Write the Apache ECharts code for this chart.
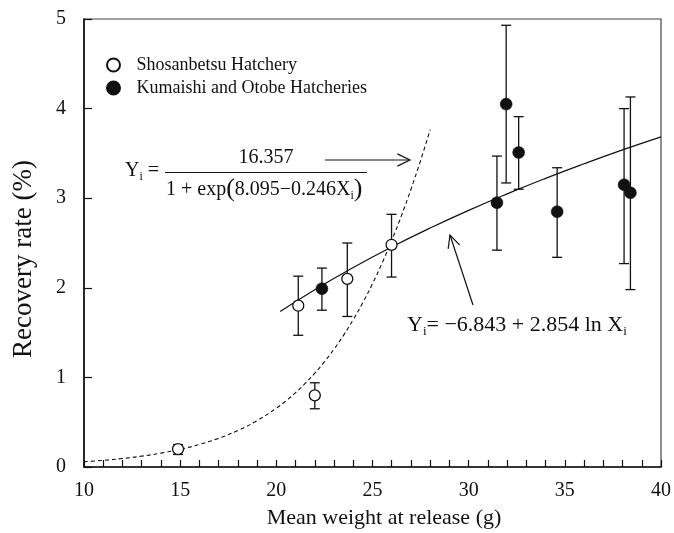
<!DOCTYPE html>
<html><head><meta charset="utf-8">
<script src="https://cdn.jsdelivr.net/npm/echarts@6.0.0/dist/echarts.min.js"></script>
<style>html,body{margin:0;padding:0;background:#fff}#c{width:674px;height:533px}</style>
</head><body><div id="c"></div>
<script>
// Shosanbetsu Hatchery (open circles)
const openX  = [14.89, 21.14, 22.0, 23.69, 25.99];
const openY  = [0.20, 1.80, 0.80, 2.10, 2.48];
const openLo = [0.14, 1.47, 0.65, 1.68, 2.12];
const openHi = [0.25, 2.13, 0.94, 2.50, 2.82];
// Kumaishi and Otobe Hatcheries (filled circles)
const fillX  = [22.37, 31.47, 31.95, 32.6, 34.6, 38.08, 38.41];
const fillY  = [1.99, 2.95, 4.05, 3.51, 2.85, 3.15, 3.06];
const fillLo = [1.75, 2.42, 3.17, 3.10, 2.34, 2.27, 1.98];
const fillHi = [2.22, 3.47, 4.93, 3.91, 3.34, 4.00, 4.13];
// solid fitted curve
const logCurveX = [20.2, 22, 24, 26, 28, 30, 32, 34, 36, 38, 40];
const logCurveY = [1.735, 1.979, 2.227, 2.456, 2.667, 2.864, 3.048, 3.221, 3.384, 3.539, 3.685];
// dashed fitted curve
const dashX = [10, 11, 12, 13, 14, 15, 16, 17, 18, 19, 20, 20.5, 21, 21.5, 22, 22.5, 23, 23.5, 24, 24.5, 25, 25.5, 26, 26.5, 27, 27.5, 28];
const dashY = [0.058, 0.074, 0.095, 0.121, 0.155, 0.197, 0.252, 0.320, 0.408, 0.518, 0.656, 0.738, 0.830, 0.933, 1.047, 1.174, 1.315, 1.472, 1.645, 1.836, 2.046, 2.277, 2.529, 2.803, 3.100, 3.421, 3.766];
const seriesNames = ['Shosanbetsu Hatchery', 'Kumaishi and Otobe Hatcheries'];
const xTitle = 'Mean weight at release (g)';
const yTitle = 'Recovery rate (%)';

const FONT = '"Liberation Serif", "Times New Roman", serif';
const zip = (a, b) => a.map((v, i) => [v, b[i]]);
const zip3 = (a, b, c) => a.map((v, i) => [v, b[i], c[i]]);

const mctx = document.createElement('canvas').getContext('2d');
function tw(t, size) { mctx.font = size + 'px ' + FONT; return mctx.measureText(t).width; }
function eq(parts, x, y) {
  const out = []; let cx = x;
  parts.forEach(([t, size, dy]) => {
    out.push({type: 'text', x: cx, y: y + dy, silent: true,
      style: {text: t, font: size + 'px ' + FONT, fill: '#111', textAlign: 'left', textVerticalAlign: 'middle'}});
    cx += tw(t, size);
  });
  return out;
}
function arrow(x1, y1, x2, y2) {
  const dx = x1 - x2, dy = y1 - y2, L = Math.hypot(dx, dy);
  const ux = dx / L, uy = dy / L, len = 14, a = 0.45;
  const c = Math.cos(a), s = Math.sin(a);
  const p1 = [x2 + len * (ux * c - uy * s), y2 + len * (ux * s + uy * c)];
  const p2 = [x2 + len * (ux * c + uy * s), y2 + len * (-ux * s + uy * c)];
  const st = {stroke: '#111', lineWidth: 1.2, fill: null};
  return [
    {type: 'line', silent: true, shape: {x1, y1, x2, y2}, style: st},
    {type: 'polyline', silent: true, shape: {points: [p1, [x2, y2], p2]}, style: st}
  ];
}

function errRender(params, api) {
  const x = api.value(0), lo = api.value(1), hi = api.value(2);
  const a = api.coord([x, hi]), b = api.coord([x, lo]);
  const w = 5, st = {stroke: '#111', lineWidth: 1.3};
  return {type: 'group', children: [
    {type: 'line', shape: {x1: a[0], y1: a[1], x2: b[0], y2: b[1]}, style: st},
    {type: 'line', shape: {x1: a[0] - w, y1: a[1], x2: a[0] + w, y2: a[1]}, style: st},
    {type: 'line', shape: {x1: b[0] - w, y1: b[1], x2: b[0] + w, y2: b[1]}, style: st}
  ]};
}

const graphics = [].concat(
  eq([['Y', 20, 0], ['i', 12, 6], [' =', 20, 0]], 125, 171),
  [{type: 'text', x: 266, y: 158, silent: true, style: {text: '16.357', font: '20px ' + FONT, fill: '#111', textAlign: 'center', textVerticalAlign: 'middle'}},
   {type: 'line', silent: true, shape: {x1: 165, y1: 172.5, x2: 367, y2: 172.5}, style: {stroke: '#111', lineWidth: 1.1}}],
  eq([['1 + exp', 20, 0], ['(', 26, -1], ['8.095\u22120.246', 20, 0], ['X', 20, 0], ['i', 12, 6], [')', 26, -1]], 166, 190),
  arrow(325, 160, 410, 160),
  eq([['Y', 22, 0], ['i', 13, 7], ['= \u22126.843 + 2.854 ln X', 22, 0], ['i', 13, 7]], 407, 325),
  arrow(473, 305, 450, 235),
  [{type: 'text', x: 384, y: 518, silent: true, style: {text: xTitle, font: '22px ' + FONT, fill: '#111', textAlign: 'center', textVerticalAlign: 'middle'}},
   {type: 'text', x: 24, y: 259, rotation: Math.PI / 2, silent: true, style: {text: yTitle, font: '27px ' + FONT, fill: '#111', textAlign: 'center', textVerticalAlign: 'middle'}}]
);

const chart = echarts.init(document.getElementById('c'), null, {renderer: 'canvas'});
chart.setOption({
  animation: false,
  backgroundColor: '#fff',
  grid: {left: 84, right: 11, top: 19, bottom: 66, show: true, borderColor: '#444', borderWidth: 1.2, backgroundColor: 'transparent'},
  legend: {
    data: seriesNames, orient: 'vertical', left: 101, top: 51, itemWidth: 36, itemHeight: 13, itemGap: 5,
    icon: 'circle', selectedMode: false,
    textStyle: {fontFamily: FONT, fontSize: 18, color: '#111'}
  },
  xAxis: {
    type: 'value', min: 10, max: 40, interval: 1,
    axisLine: {lineStyle: {color: '#111', width: 1.6}},
    axisTick: {inside: true, length: 7, lineStyle: {color: '#111', width: 1.2}},
    axisLabel: {formatter: v => (v % 5 === 0 ? String(v) : ''), fontFamily: FONT, fontSize: 20, color: '#111', margin: 14, showMinLabel: true, showMaxLabel: true},
    splitLine: {show: false}
  },
  yAxis: {
    type: 'value', min: 0, max: 5, interval: 1,
    axisLine: {show: true, lineStyle: {color: '#111', width: 1.6}},
    axisTick: {show: true, inside: true, length: 8, lineStyle: {color: '#111', width: 1.2}},
    axisLabel: {fontFamily: FONT, fontSize: 20, color: '#111', margin: 18},
    splitLine: {show: false}
  },
  series: [
    {type: 'line', name: 'log fit', data: zip(logCurveX, logCurveY), showSymbol: false, smooth: true, silent: true,
     lineStyle: {color: '#111', width: 1.2}, z: 2},
    {type: 'line', name: 'logistic fit', data: zip(dashX, dashY), showSymbol: false, smooth: true, silent: true,
     lineStyle: {color: '#111', width: 1.1, type: [4, 3]}, z: 2},
    {type: 'custom', name: 'err open', renderItem: errRender, data: zip3(openX, openLo, openHi), encode: {x: 0, y: [1, 2]}, silent: true, z: 3},
    {type: 'custom', name: 'err fill', renderItem: errRender, data: zip3(fillX, fillLo, fillHi), encode: {x: 0, y: [1, 2]}, silent: true, z: 3},
    {type: 'scatter', name: seriesNames[0], data: zip(openX, openY), symbol: 'circle', symbolSize: 11,
     itemStyle: {color: '#fff', borderColor: '#111', borderWidth: 1.3, opacity: 1}, z: 5},
    {type: 'scatter', name: seriesNames[1], data: zip(fillX, fillY), symbol: 'circle', symbolSize: 12,
     itemStyle: {color: '#111', borderColor: '#111', borderWidth: 0.5, opacity: 1}, z: 5}
  ],
  graphic: graphics
});
</script>
</body></html>
